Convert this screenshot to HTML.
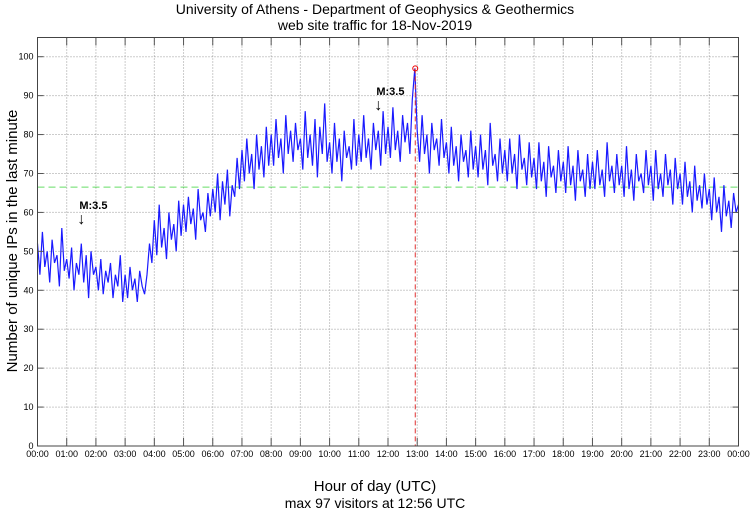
<!DOCTYPE html>
<html><head><meta charset="utf-8">
<style>
html,body{margin:0;padding:0;background:#fff;}
svg{display:block;font-family:"Liberation Sans",sans-serif;}
</style></head>
<body>
<svg id="chart" width="750" height="511" viewBox="0 0 750 511">
<text x="375" y="14" text-anchor="middle" font-size="14">University of Athens - Department of Geophysics &amp; Geothermics</text>
<text x="375" y="30" text-anchor="middle" font-size="14">web site traffic for 18-Nov-2019</text>
<text x="375" y="491" text-anchor="middle" font-size="15">Hour of day (UTC)</text>
<text x="375" y="508" text-anchor="middle" font-size="14">max 97 visitors at 12:56 UTC</text>
<text transform="translate(17,241) rotate(-90)" text-anchor="middle" font-size="15">Number of unique IPs in the last minute</text>
<g id="grid"></g>
<g id="marks"></g>
<g id="axes"></g>
</svg>
<script>
const yTicks=[0,10,20,30,40,50,60,70,80,90,100];
const xTickLabels=["00:00","01:00","02:00","03:00","04:00","05:00","06:00","07:00","08:00","09:00","10:00","11:00","12:00","13:00","14:00","15:00","16:00","17:00","18:00","19:00","20:00","21:00","22:00","23:00","00:00"];
const visitors=[
52,44,55,46,50,42,53,47,49,41,56,45,
48,43,51,40,47,44,52,42,49,38,50,44,
46,40,48,39,45,42,47,38,44,41,49,37,
44,38,46,40,43,37,45,41,39,44,52,47,
58,49,62,51,56,48,60,53,57,50,63,54,
62,55,64,57,61,53,66,58,60,55,65,59,
66,60,70,58,68,62,71,59,67,64,74,66,
76,68,79,70,75,66,80,71,77,69,82,72,
80,72,84,74,79,70,85,75,81,73,83,76,
79,71,86,74,80,72,84,69,82,75,88,73,
78,70,83,73,79,68,81,74,77,71,84,72,
80,73,85,74,79,71,83,76,81,72,86,75,
82,74,87,76,81,73,85,78,83,75,89,97,
81,73,85,75,80,70,83,76,79,72,84,74,
78,70,82,72,77,68,80,73,76,69,81,71,
77,69,80,71,76,67,83,72,75,68,79,70,
76,68,79,70,75,66,80,71,74,67,78,69,
74,66,78,68,73,64,77,69,72,65,76,68,
73,65,77,67,72,63,76,68,71,64,75,66,
73,66,76,67,71,64,78,68,72,65,75,67,
72,64,77,66,71,63,75,68,70,65,76,67,
72,63,76,66,70,64,75,67,71,62,74,66,
70,62,73,64,68,60,72,63,67,61,70,62,
66,58,69,60,64,55,67,59,63,56,65,60,
62];
const stepMinutes=[5];
const meanValue=[66.5];
const maxTime=[12+56/60];
const maxValue=[97];
const quakeTimes=[1.5,11.67];
const quakeLabels=["M:3.5","M:3.5"];
const quakeLabelY=[57.3,86.6];

const L=37.5,R=738.5,T=37.5,B=446;
const X=h=>L+(R-L)*h/24;
const Y=v=>B-(B-56.7)*v/100;
const NS="http://www.w3.org/2000/svg";
function mk(tag,parent,attrs){const e=document.createElementNS(NS,tag);for(const k in attrs)e.setAttribute(k,attrs[k]);parent.appendChild(e);return e;}
const grid=document.getElementById('grid'),marks=document.getElementById('marks'),axes=document.getElementById('axes');

yTicks.forEach(v=>{
  if(v>0){const g=mk('line',grid,{x1:L,x2:R,y1:Y(v),y2:Y(v),stroke:'#999','stroke-width':1,'stroke-dasharray':'1,2'});
  
  }
  const t=mk('text',axes,{x:L-4,y:Y(v)+3,'text-anchor':'end','font-size':9});
  t.textContent=v;
  
  
  mk('line',axes,{x1:L,x2:L+6,y1:Y(v),y2:Y(v),stroke:'#555'});
  mk('line',axes,{x1:R,x2:R-6,y1:Y(v),y2:Y(v),stroke:'#555'});
});
xTickLabels.forEach((s,i)=>{
  const x=X(i);
  if(i>0&&i<24){const g=mk('line',grid,{x1:x,x2:x,y1:T,y2:B,stroke:'#999','stroke-width':1,'stroke-dasharray':'1,2'});
  
  }
  const t=mk('text',axes,{x:x,y:B+11,'text-anchor':'middle','font-size':9});
  t.textContent=s;
  
  
  mk('line',axes,{x1:x,x2:x,y1:B,y2:B-8,stroke:'#555'});
  mk('line',axes,{x1:x,x2:x,y1:T,y2:T+8,stroke:'#555'});
});

const mean=mk('line',marks,{x1:L,x2:R,y1:Y(meanValue[0]),y2:Y(meanValue[0]),stroke:'#66dd66','stroke-width':1,'stroke-dasharray':'7,4'});



const pts=visitors.map((v,i)=>X(i*stepMinutes[0]/60).toFixed(1)+','+Y(v).toFixed(1)).join(' ');
const line=mk('polyline',marks,{points:pts,fill:'none',stroke:'#1a1aff','stroke-width':1.2});



const vl=mk('line',marks,{x1:X(maxTime[0]),x2:X(maxTime[0]),y1:Y(maxValue[0]),y2:B,stroke:'#e03030','stroke-width':1,'stroke-dasharray':'5,3'});


const c=mk('circle',marks,{cx:X(maxTime[0]),cy:Y(maxValue[0]),r:2.5,fill:'none',stroke:'#e00','stroke-width':1});



quakeTimes.forEach((h,i)=>{
  const t=mk('text',marks,{x:X(h)-2,y:Y(quakeLabelY[i])-14,'font-size':11,'font-weight':'bold'});
  t.textContent=quakeLabels[i];
  
  
  const a=mk('text',marks,{x:X(h),y:Y(quakeLabelY[i])+1,'font-size':16,'text-anchor':'middle'});
  a.textContent='↓';
  
  
});

const fr=mk('rect',axes,{x:L,y:T,width:R-L,height:B-T,fill:'none',stroke:'#444','stroke-width':1});


</script>
</body></html>
